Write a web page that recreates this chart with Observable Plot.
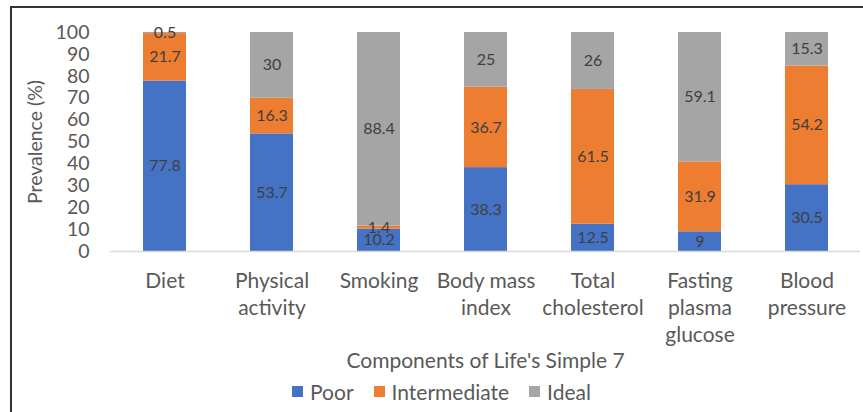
<!DOCTYPE html>
<html>
<head>
<meta charset="utf-8">
<script src="https://cdn.jsdelivr.net/npm/d3@7"></script>
<script src="https://cdn.jsdelivr.net/npm/@observablehq/plot@0.6"></script>
<style>
  html, body { margin: 0; padding: 0; background: #fff; }
  body { width: 863px; height: 412px; overflow: hidden; position: relative; font-family: Lato, sans-serif; }
  #frame { position: absolute; left: 10px; top: 6px; width: 870px; height: 420px; border-left: 2px solid #333; border-top: 2px solid #333; box-sizing: border-box; pointer-events: none; }
  #legend { display: flex; justify-content: center; align-items: center; gap: 20px; font-size: 21px; color: #595959; height: 34px; padding-left: 20px; }
  #legend span.item { display: inline-flex; align-items: center; gap: 7px; }
  #legend span.sw { width: 11px; height: 11px; display: inline-block; }
</style>
</head>
<body>
<div id="chart"></div>
<div id="legend"></div>
<div id="frame"></div>
<script>
const categories = ["Diet", "Physical\nactivity", "Smoking", "Body mass\nindex", "Total\ncholesterol", "Fasting\nplasma\nglucose", "Blood\npressure"];
const levels = ["Poor", "Intermediate", "Ideal"];
const colors = ["#4472C4", "#ED7D31", "#A5A5A5"];
const poor = [77.8, 53.7, 10.2, 38.3, 12.5, 9, 30.5];
const intermediate = [21.7, 16.3, 1.4, 36.7, 61.5, 31.9, 54.2];
const ideal = [0.5, 30, 88.4, 25, 26, 59.1, 15.3];
const yTicks = [0, 10, 20, 30, 40, 50, 60, 70, 80, 90, 100];

const series = [poor, intermediate, ideal];
const data = [];
categories.forEach((c, i) => {
  levels.forEach((l, j) => data.push({category: c, level: l, value: series[j][i]}));
});

const chart = Plot.plot({
  width: 863,
  height: 374,
  marginLeft: 110,
  marginRight: 3,
  marginTop: 32,
  marginBottom: 123,
  style: {fontFamily: "Lato, sans-serif", background: "transparent"},
  x: {domain: categories, paddingInner: 0.6, paddingOuter: 0.3},
  y: {domain: [0, 100]},
  color: {domain: levels, range: colors},
  marks: [
    Plot.barY(data, {x: "category", y: "value", fill: "level"}),
    Plot.ruleY([0], {stroke: "#D9D9D9", strokeWidth: 1.5}),
    Plot.text(data, Plot.stackY({x: "category", y: "value", z: "level", text: d => String(d.value), fill: "#404040", fontSize: 16})),
    Plot.axisY({ticks: yTicks, tickSize: 0, tickPadding: 21, fontSize: 19.5, color: "#595959", label: "Prevalence (%)", labelAnchor: "center", labelArrow: "none", labelOffset: 82}),
    Plot.axisX({tickSize: 0, tickPadding: 17, fontSize: 21, color: "#595959", lineHeight: 1.3, label: "Components of Life's Simple 7", labelAnchor: "center", labelArrow: "none", labelOffset: 116})
  ]
});
document.getElementById("chart").appendChild(chart);

const legend = document.getElementById("legend");
levels.forEach((l, j) => {
  const item = document.createElement("span");
  item.className = "item";
  const sw = document.createElement("span");
  sw.className = "sw";
  sw.style.background = colors[j];
  item.appendChild(sw);
  item.appendChild(document.createTextNode(l));
  legend.appendChild(item);
});
</script>
</body>
</html>
